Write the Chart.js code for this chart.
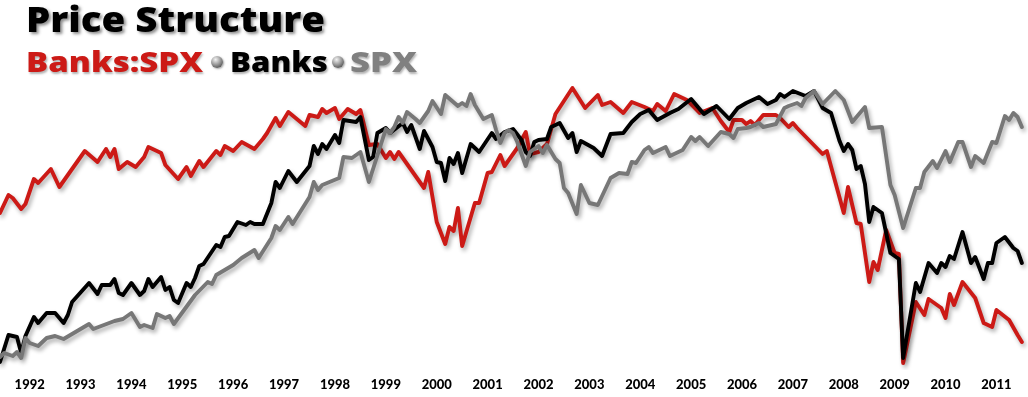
<!DOCTYPE html>
<html>
<head>
<meta charset="utf-8">
<script src="https://cdn.jsdelivr.net/npm/chart.js@4.4.1/dist/chart.umd.min.js"></script>
<style>
  html, body { margin: 0; padding: 0; background: #fff; width: 1028px; height: 397px; overflow: hidden; }
  #wrap { position: relative; width: 1028px; height: 397px; }
  canvas { position: absolute; left: 0; top: 0; }
  .hdr { position: absolute; font-family: "Open Sans", Lato, sans-serif; font-weight: 800; line-height: 1; white-space: nowrap; transform-origin: 0 0; }
  #title { left: 26px; top: 1px; font-size: 36px; color: #000; text-shadow: 2px 2px 3px rgba(0,0,0,0.45); }
  .leg { top: 46px; font-size: 29px; text-shadow: 1px 2px 2px rgba(0,0,0,0.3); }
  .dot { position: absolute; width: 12px; height: 12px; border-radius: 50%; top: 56px;
         background: radial-gradient(circle at 38% 30%, #f2f2f2 0%, #9a9a9a 45%, #2a2a2a 100%); box-shadow: 1px 1px 2px rgba(0,0,0,0.35); }
</style>
</head>
<body>
<div id="wrap">
  <canvas id="c" width="1028" height="397"></canvas>
  <div id="title" class="hdr" data-w="299">Price Structure</div>
  <div class="hdr leg" style="left:26px;color:#cc1a16" data-w="177">Banks:SPX</div>
  <div class="dot" style="left:211px"></div>
  <div class="hdr leg" style="left:230px;color:#000" data-w="98">Banks</div>
  <div class="dot" style="left:332px"></div>
  <div class="hdr leg" style="left:350px;color:#808080" data-w="67">SPX</div>
</div>
<script>
// Monthly index: 0 = Jun 1991 ... 241 = Jul 2011. Values are relative levels (common visual scale).
const yearLabels = ['1992','1993','1994','1995','1996','1997','1998','1999','2000','2001','2002','2003','2004','2005','2006','2007','2008','2009','2010','2011'];
const firstJanIndex = 7; // Jan 1992

const ratioMonths = [0,2,3,5,6,8,9,12,14,20,23,25,26,27,28,30,32,34,35,38,39,42,44,45,47,48,51,52,53,55,57,60,62,63,65,66,68,72,73,75,76,77,79,80,82,84,85,87,89,91,92,93,94,100,101,103,105,106,107,108,109,112,113,115,116,118,119,122,124,125,127,129,131,135,138,141,142,144,147,149,152,154,155,157,159,162,165,168,170,172,173,175,176,177,178,180,183,184,186,187,188,194,195,199,200,202,203,205,206,207,209,211,212,213,216,218,219,222,223,224,225,227,230,232,234,235,238,240,241];
const ratioValues = [157,175,172,161,166,191,187,201,183,219,208,221,213,221,201,208,203,213,223,217,205,191,203,194,209,203,219,215,224,219,228,221,231,237,252,244,258,244,255,253,261,257,262,251,261,256,260,225,226,212,218,211,218,182,198,148,126,143,139,162,124,167,167,197,198,215,204,222,238,216,218,226,256,282,262,275,265,268,257,268,263,259,266,259,276,270,257,262,249,238,250,250,246,249,245,255,255,252,243,247,242,216,219,157,183,147,146,88,108,100,140,117,116,7,68,55,71,62,52,76,65,88,72,47,43,60,50,35,28];

const banksMonths = [0,2,4,5,6,8,9,11,13,15,16,17,21,23,24,26,27,28,29,31,33,34,35,36,38,39,40,41,42,44,45,46,47,48,51,52,53,54,56,58,59,60,62,64,65,66,68,70,73,74,75,76,77,79,80,81,84,85,87,88,89,91,92,95,96,97,99,100,102,103,104,105,106,107,108,109,111,113,116,117,119,121,123,124,125,126,127,129,130,132,134,135,136,137,140,142,144,147,149,151,153,155,158,160,163,166,169,172,174,176,179,181,183,184,185,187,190,192,194,196,198,199,200,201,202,203,204,205,206,208,210,212,213,216,217,219,221,222,223,224,225,227,229,230,232,233,234,235,237,239,240,241];
const banksValues = [8,35,33,17,34,53,47,57,57,47,55,68,87,76,85,85,91,77,75,87,75,79,91,83,93,80,83,70,67,87,83,92,104,106,125,123,133,134,148,145,148,146,146,167,188,182,199,188,204,224,216,226,221,235,227,250,248,253,210,213,237,242,237,247,238,245,221,239,223,208,207,189,212,206,217,197,226,218,237,231,238,241,230,218,214,228,230,231,243,247,232,237,218,229,222,214,236,237,248,256,260,250,257,261,271,256,264,251,262,267,273,266,270,276,273,279,274,279,262,257,229,219,226,220,201,204,186,148,163,157,117,111,12,87,78,107,97,107,103,114,111,138,107,113,91,107,107,127,133,122,119,107];

const spxMonths = [0,1,3,4,5,6,7,9,11,13,15,21,22,27,29,31,33,34,36,37,39,40,41,46,49,50,51,55,57,60,61,64,65,66,68,69,73,74,75,76,80,81,83,85,87,91,92,93,94,95,96,98,99,101,102,104,105,108,109,110,111,112,114,116,117,118,119,120,121,122,124,125,127,128,129,131,132,133,134,136,137,139,141,144,146,148,149,150,152,153,154,157,158,161,163,164,165,167,170,172,173,174,176,177,179,180,181,183,185,186,188,189,190,192,194,197,199,201,204,205,208,210,211,213,216,217,218,220,221,223,224,226,227,229,230,232,234,235,237,238,239,240,241];
const spxValues = [13,17,14,18,12,32,27,24,32,34,31,46,41,49,51,57,43,45,42,56,52,54,46,75,88,86,95,105,112,120,112,132,144,140,153,146,173,188,180,185,192,213,212,218,188,241,237,243,253,247,258,251,247,259,269,256,275,264,267,264,276,265,251,255,240,227,237,240,237,228,204,218,224,217,225,211,207,182,177,156,185,167,165,192,197,196,208,207,220,223,217,223,214,220,233,229,233,224,238,236,232,241,242,243,247,243,244,246,262,264,267,264,272,279,266,279,270,248,263,242,243,185,175,142,182,182,198,209,202,219,208,228,228,203,214,207,228,227,254,250,257,253,243];

function pairs(xs, ys) { return xs.map((x, i) => ({ x: x, y: ys[i] })); }

// fit header text horizontally to the reference widths
document.querySelectorAll('.hdr[data-w]').forEach(el => {
  const w = el.getBoundingClientRect().width;
  const target = parseFloat(el.dataset.w);
  if (w > 0) el.style.transform = 'scaleX(' + (target / w).toFixed(4) + ')';
});

const shadowPlugin = {
  id: 'lineShadow',
  beforeDatasetsDraw(chart) {
    const ctx = chart.ctx;
    ctx.save();
    ctx.shadowColor = 'rgba(0,0,0,0.32)';
    ctx.shadowBlur = 4;
    ctx.shadowOffsetX = 2;
    ctx.shadowOffsetY = 3;
  },
  afterDatasetsDraw(chart) { chart.ctx.restore(); }
};

const lineBase = { borderWidth: 3.9, pointRadius: 0, tension: 0, fill: false, borderJoinStyle: 'round', borderCapStyle: 'round' };

new Chart(document.getElementById('c'), {
  type: 'line',
  data: {
    datasets: [
      Object.assign({ label: 'SPX', data: pairs(spxMonths, spxValues), borderColor: '#777777', order: 0 }, lineBase),
      Object.assign({ label: 'Banks', data: pairs(banksMonths, banksValues), borderColor: '#000000', order: 1 }, lineBase),
      Object.assign({ label: 'Banks:SPX', data: pairs(ratioMonths, ratioValues), borderColor: '#cc1a16', order: 2 }, lineBase)
    ]
  },
  plugins: [shadowPlugin],
  options: {
    responsive: false,
    animation: false,
    devicePixelRatio: 1,
    layout: { padding: 0 },
    plugins: { legend: { display: false }, tooltip: { enabled: false }, title: { display: false } },
    scales: {
      x: {
        type: 'linear',
        min: 0,
        max: 242.45,
        grid: { display: false, drawTicks: false },
        border: { display: false },
        afterBuildTicks(scale) {
          scale.ticks = yearLabels.map((lab, i) => ({ value: firstJanIndex + 12 * i }));
        },
        afterFit(scale) { scale.height = 27; },
        ticks: {
          autoSkip: false,
          maxRotation: 0,
          padding: 7,
          color: '#000',
          font: { family: 'Lato', weight: '900', size: 13 },
          callback(value) {
            const i = Math.round((value - firstJanIndex) / 12);
            return yearLabels[i] !== undefined ? yearLabels[i] : '';
          }
        }
      },
      y: { display: false, min: 0, max: 370 }
    }
  }
});
</script>
</body>
</html>
